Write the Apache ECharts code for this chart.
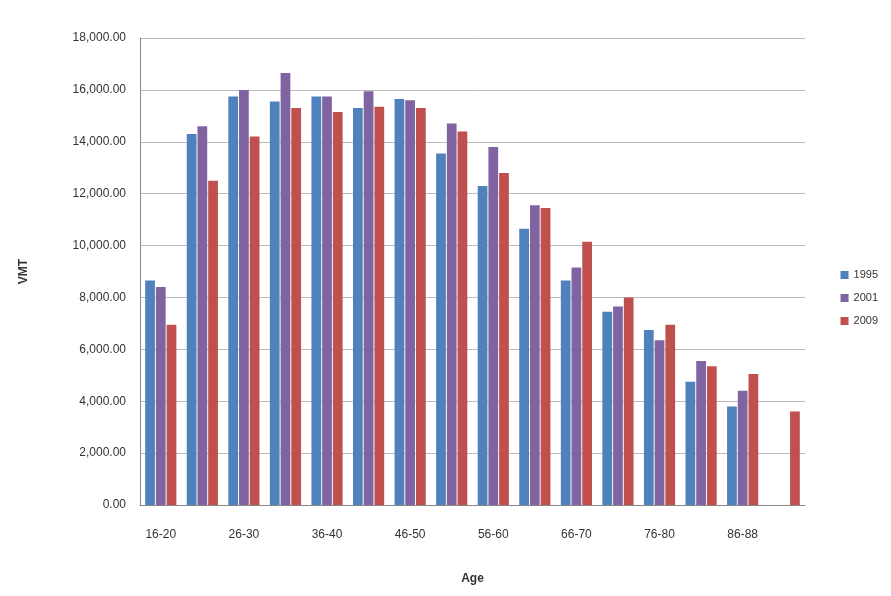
<!DOCTYPE html>
<html><head><meta charset="utf-8">
<script src="https://cdn.jsdelivr.net/npm/echarts@6/dist/echarts.min.js"></script>
<style>html,body{margin:0;background:#fff}#c{width:891px;height:596px}</style>
</head><body><div id="c"></div>
<script>
const categories = ['16-20','21-25','26-30','31-35','36-40','41-45','46-50','51-55','56-60','61-65','66-70','71-75','76-80','81-85','86-88','89+'];
const s1995 = [8650,14300,15750,15550,15750,15300,15650,13550,12300,10650,8650,7450,6750,4750,3800,null];
const s2001 = [8400,14600,16000,16650,15750,15950,15600,14700,13800,11550,9150,7650,6350,5550,4400,null];
const s2009 = [6950,12500,14200,15300,15150,15350,15300,14400,12800,11450,10150,8000,6950,5350,5050,3600];
const chart = echarts.init(document.getElementById('c'));
const font = {fontFamily:'Liberation Sans', fontSize:12, color:'#333'};
chart.setOption({
  animation:false,
  grid:{left:140, right:86, top:38, bottom:91},
  legend:{orient:'vertical', right:8, top:'middle', icon:'rect', itemWidth:8, itemHeight:8, itemGap:12,
    textStyle:{...font, fontSize:11}, data:['1995','2001','2009']},
  xAxis:{type:'category', data:categories, name:'Age', nameLocation:'middle', nameGap:68,
    nameTextStyle:{...font, fontWeight:'bold'},
    axisLabel:{...font, interval:1, margin:24}, axisTick:{show:false},
    axisLine:{lineStyle:{color:'#888'}}},
  yAxis:{type:'value', min:0, max:18000, interval:2000, name:'VMT', nameLocation:'middle', nameGap:110,
    nameTextStyle:{...font, fontWeight:'bold'},
    axisLabel:{...font, margin:14, formatter:v=>v.toLocaleString('en-US',{minimumFractionDigits:2})},
    axisLine:{show:true, lineStyle:{color:'#888'}},
    splitLine:{lineStyle:{color:'#bbb'}}},
  series:[
    {name:'1995', type:'bar', data:s1995, itemStyle:{color:'#4F81BD'}, barGap:'10%', barCategoryGap:'25%'},
    {name:'2001', type:'bar', data:s2001, itemStyle:{color:'#8064A2'}},
    {name:'2009', type:'bar', data:s2009, itemStyle:{color:'#C0504D'}}
  ]
});
</script></body></html>
